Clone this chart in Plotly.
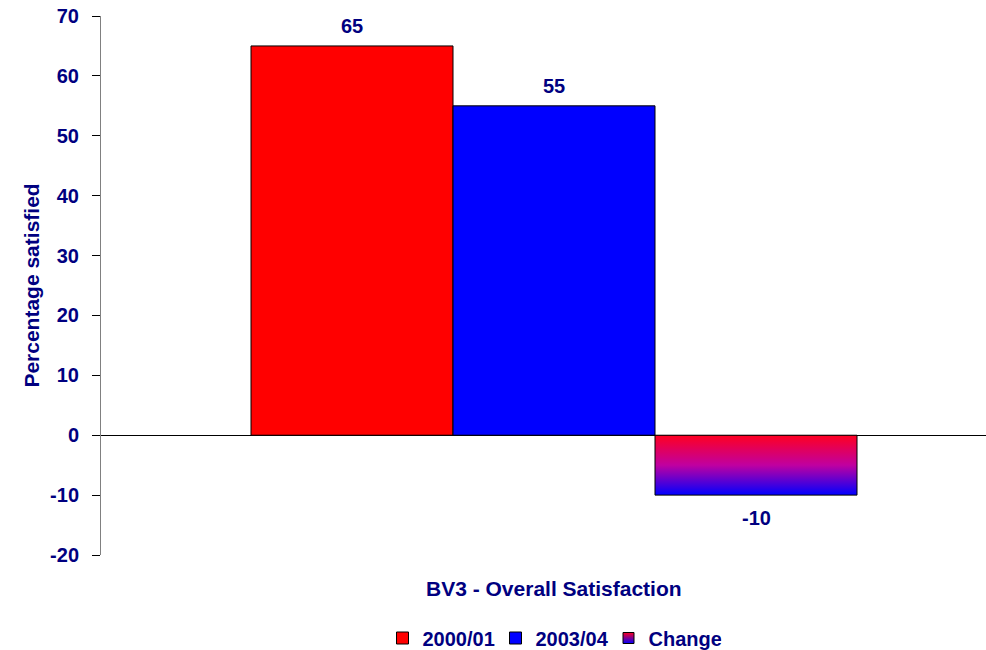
import plotly.graph_objects as go

series = ["2000/01", "2003/04", "Change"]
values = [65, 55, -10]
colors = ["#FF0000", "#0000FF", None]
x_title = "BV3 - Overall Satisfaction"
y_title = "Percentage satisfied"
y_ticks = [-20, -10, 0, 10, 20, 30, 40, 50, 60, 70]
y_ticktext = [str(v) for v in y_ticks]

NAVY = "#000080"
FONT = "Liberation Sans, Arial, sans-serif"
FS = 20
FT = 21
GRAD = [[0, "#0000FF"], [0.5, "#C000A0"], [1, "#FF0020"]]

fig = go.Figure()
for i, (name, val, col) in enumerate(zip(series, values, colors)):
    if col is not None:
        fig.add_trace(go.Bar(
            x=[i], y=[val], width=1, name=name,
            marker=dict(color=col, line=dict(color="black", width=1)),
        ))
    else:
        # gradient bar drawn as filled polygon spanning the bar slot
        xs = [i - 0.5, i + 0.5, i + 0.5, i - 0.5, i - 0.5]
        ys = [0, 0, val, val, 0]
        fig.add_trace(go.Scatter(
            x=xs, y=ys, mode="lines", name=name, fill="toself",
            showlegend=False, hoverinfo="skip",
            line=dict(color="black", width=1),
            fillgradient=dict(type="vertical", colorscale=GRAD),
        ))
        # legend swatch with gradient
        fig.add_trace(go.Scatter(
            x=[None], y=[None], mode="markers", name=name,
            marker=dict(symbol="square", size=11, color="#FF0020",
                        gradient=dict(type="vertical", color="#0000FF"),
                        line=dict(color="black", width=1)),
        ))

for i, val in enumerate(values):
    fig.add_annotation(
        x=i, y=val, text=str(val), showarrow=False,
        yshift=20 if val >= 0 else -23,
        font=dict(family=FONT, size=FS, color=NAVY, weight="bold"),
    )

fig.add_annotation(
    x=1, y=(555 - 588) / 539, xref="x", yref="paper", text=x_title,
    showarrow=False, yanchor="middle",
    font=dict(family=FONT, size=FT, color=NAVY, weight="bold"),
)

fig.update_layout(
    width=986, height=650,
    margin=dict(l=101, r=0, t=16, b=95, autoexpand=False),
    paper_bgcolor="white", plot_bgcolor="white",
    barmode="overlay",
    showlegend=True,
    legend=dict(orientation="h", x=(552 - 101) / 885, xanchor="center",
                yref="container", y=(650 - 638) / 650, yanchor="middle",
                font=dict(family=FONT, size=FS, color=NAVY, weight="bold"),
                itemwidth=30, tracegroupgap=0,
                entrywidth=68, entrywidthmode="pixels"),
    xaxis=dict(range=[-0.5 - 150 / 202, 2.5 + 129 / 202], showgrid=False,
               showticklabels=False, zeroline=False, showline=False,
               ticks=""),
    yaxis=dict(range=[-20, 70], tickvals=y_ticks, ticktext=y_ticktext,
               showgrid=False,
               showline=True, linecolor="#808080", linewidth=1,
               ticks="outside", ticklen=8, tickcolor="black",
               zeroline=True, zerolinecolor="black", zerolinewidth=1,
               ticklabelstandoff=9,
               tickfont=dict(family=FONT, size=FS, color=NAVY, weight="bold"),
               title=dict(text=y_title, standoff=4,
                          font=dict(family=FONT, size=FT, color=NAVY, weight="bold"))),
)

fig.write_html("out.html")
